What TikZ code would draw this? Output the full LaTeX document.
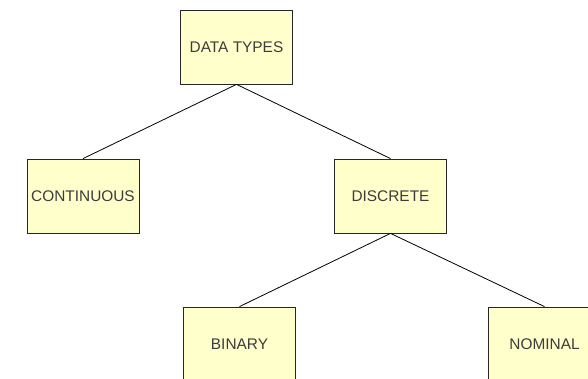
\documentclass[tikz,border=0pt]{standalone}
\usepackage{fontspec}
\setmainfont{Liberation Sans}
\usepackage{tikz}
\usetikzlibrary{positioning}

\definecolor{boxfill}{RGB}{255,255,204}
\definecolor{boxtext}{RGB}{60,60,60}

\begin{document}
\begin{tikzpicture}[x=1pt,y=1pt,
  typebox/.style={draw=black!85, fill=boxfill, text=boxtext, line width=0.8pt,
    minimum width=112pt, minimum height=74pt, inner sep=0pt,
    font=\fontsize{15.4}{17}\selectfont}]
  \useasboundingbox (0,0) rectangle (588,379);
  \node [typebox] (types) at (236.5,332) {DATA TYPES};
  \node [typebox] (cont) at (83,183) {CONTINUOUS};
  \node [typebox] (disc) at (390.5,183) {DISCRETE};
  \node [typebox] (bin) at (239.5,35) {BINARY};
  \node [typebox] (nom) at (544.5,35) {NOMINAL};
  \foreach\A/\B in {types/cont,types/disc,disc/bin,disc/nom}
    \draw [line width=0.8pt](\A.south)--(\B.north);
\end{tikzpicture}
\end{document}
